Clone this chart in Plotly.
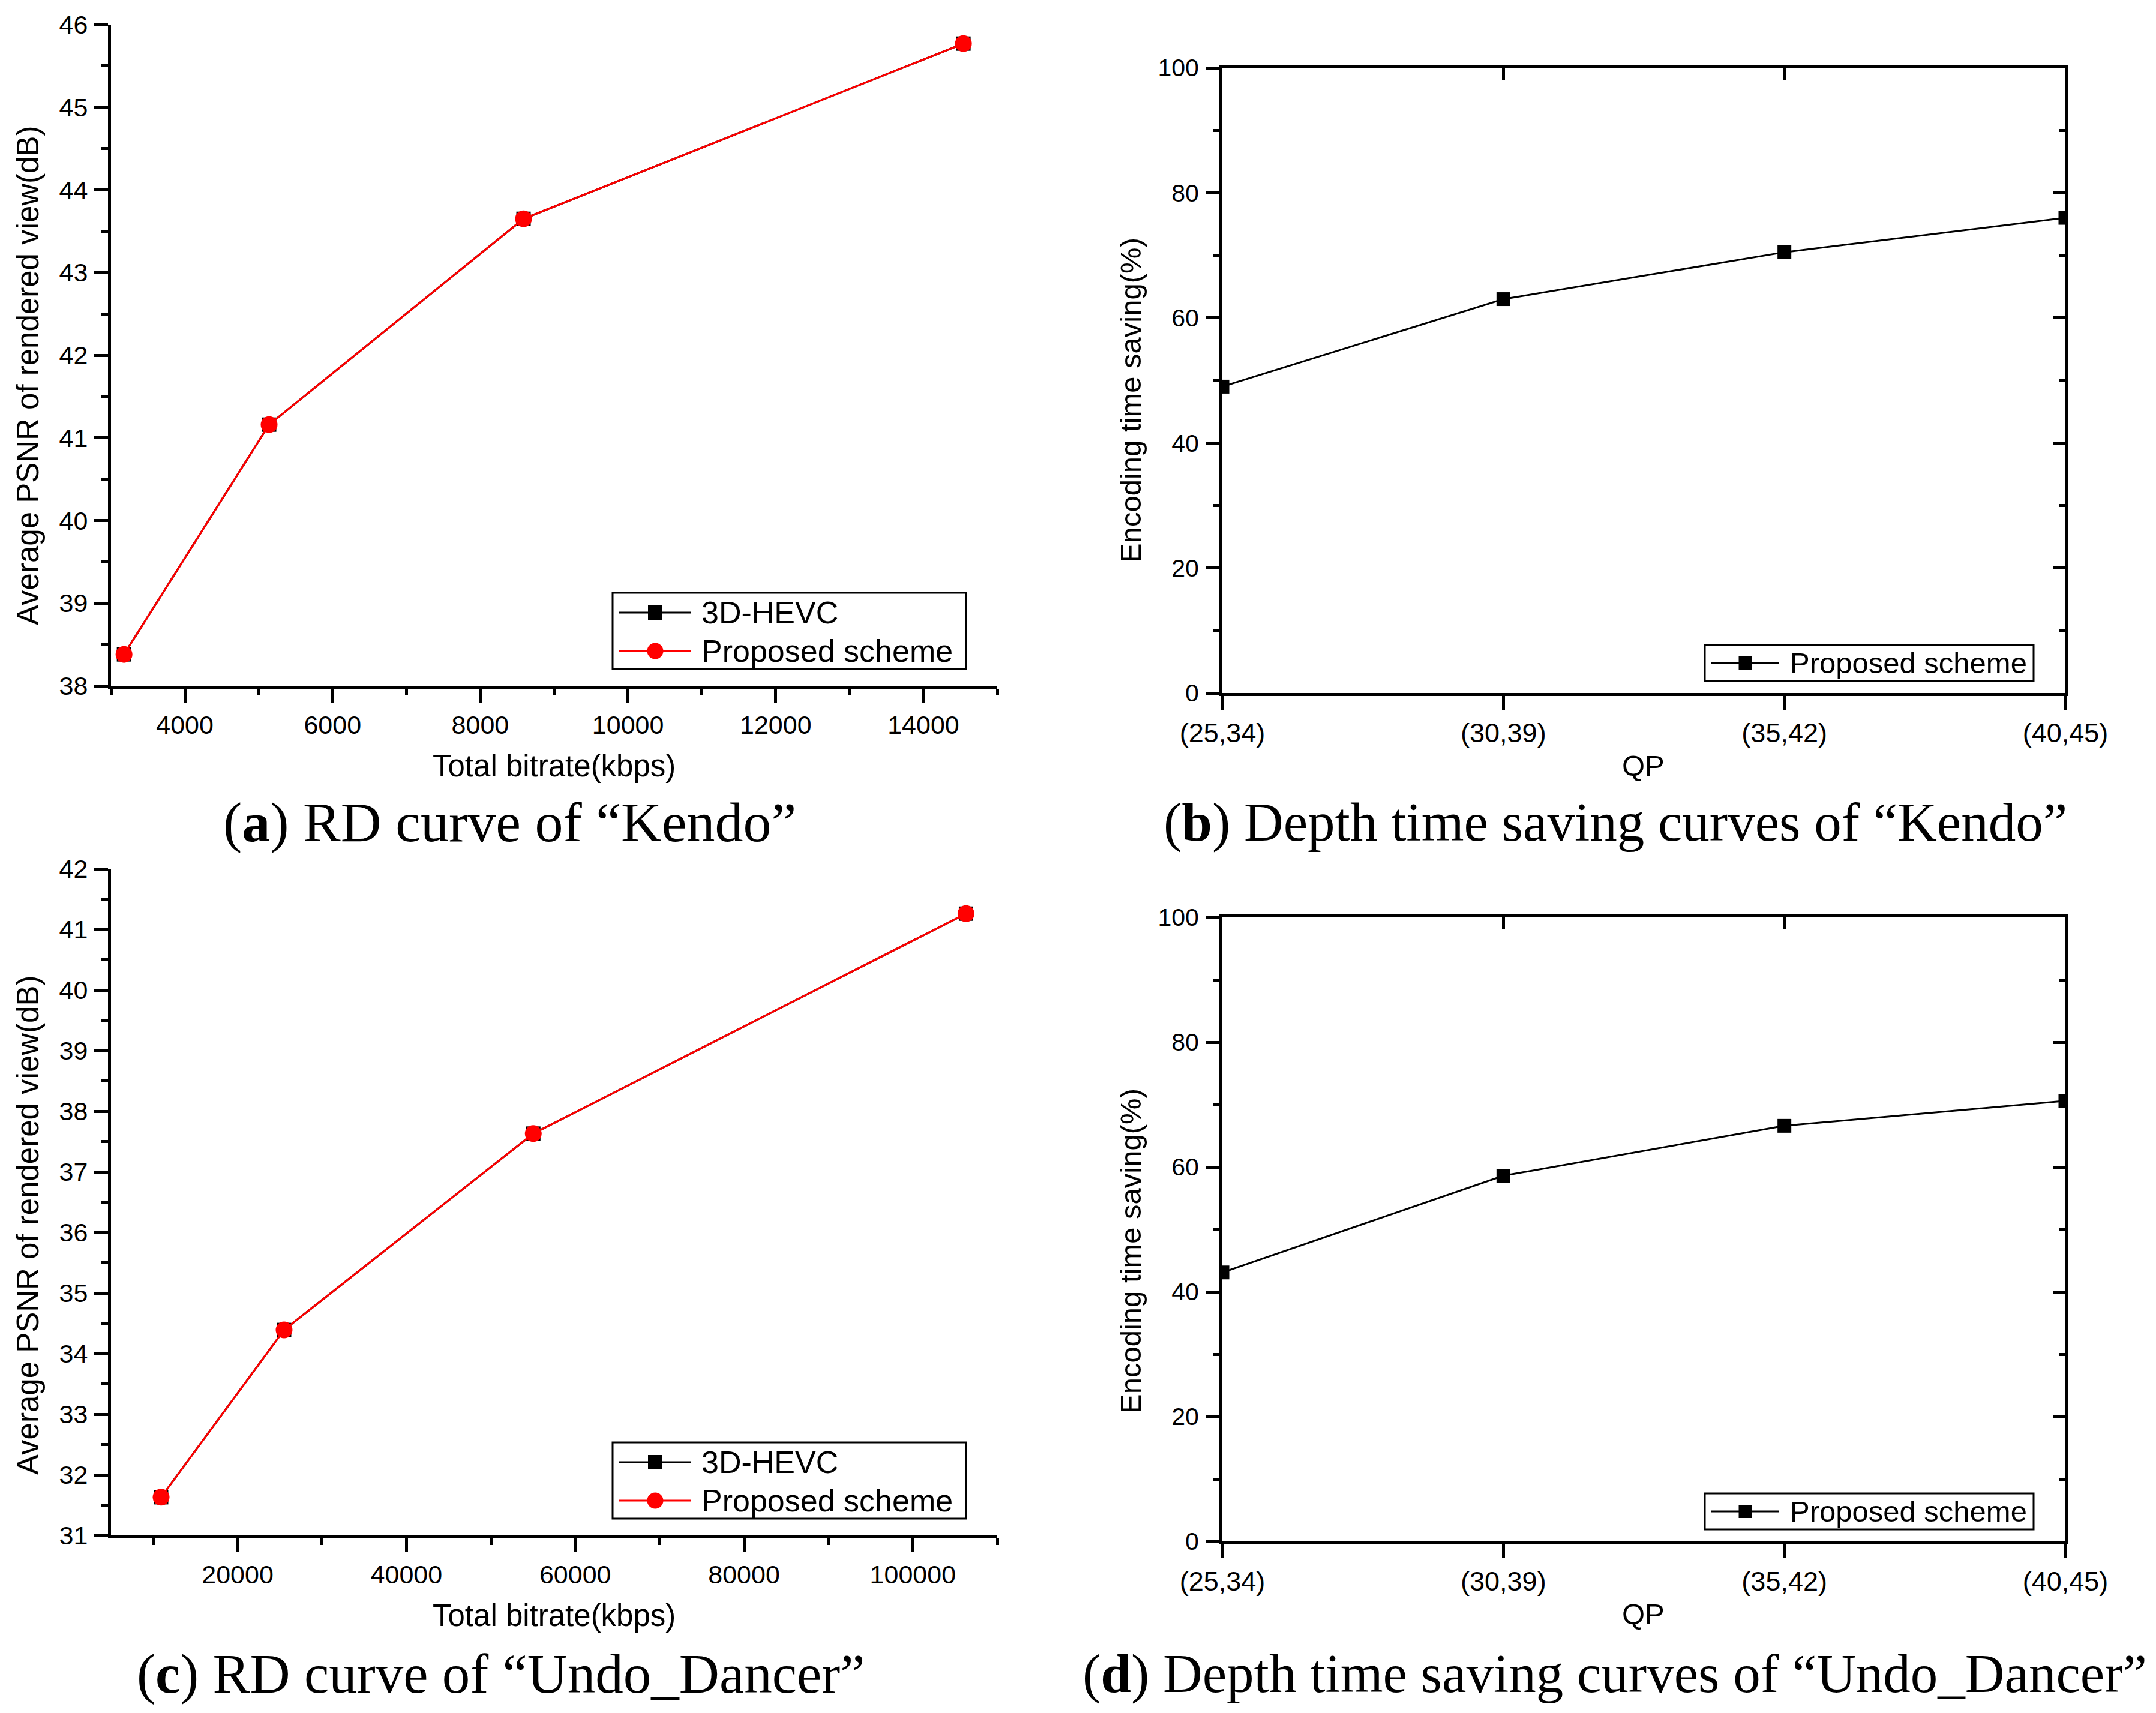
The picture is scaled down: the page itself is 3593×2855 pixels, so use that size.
"""RD curves and depth time-saving curves for Kendo / Undo_Dancer (2x2 panel figure)."""

import plotly.graph_objects as go

# ── data ────────────────────────────────────────────────────────────────

KENDO_BITRATE_HEVC = [3176, 5141, 8586, 14542]
KENDO_PSNR_HEVC = [38.38, 41.16, 43.65, 45.77]
KENDO_BITRATE_PROP = [3176, 5141, 8586, 14542]
KENDO_PSNR_PROP = [38.38, 41.16, 43.65, 45.77]

UNDO_BITRATE_HEVC = [10936, 25507, 55032, 106300]
UNDO_PSNR_HEVC = [31.63, 34.39, 37.63, 41.26]
UNDO_BITRATE_PROP = [10936, 25507, 55032, 106300]
UNDO_PSNR_PROP = [31.63, 34.39, 37.63, 41.26]

QP_LABELS = ["(25,34)", "(30,39)", "(35,42)", "(40,45)"]
KENDO_SAVING = [49.0, 63.0, 70.5, 76.0]
UNDO_SAVING = [43.1, 58.6, 66.6, 70.6]

QP_POS = list(range(len(QP_LABELS)))

# ── page geometry (pixels of the reference image) ───────────────────────

W, H = 3593, 2855
SANS = "Liberation Sans, Arial, sans-serif"
SERIF = "Liberation Serif, 'Times New Roman', serif"
AXW = 5
LW = 3.2


def px(x):
    return x / W


def py(y):
    return 1 - y / H


A_X = [px(185), px(1662)]
A_Y = [py(1143), py(41)]
B_X = [px(2037), px(3442)]
B_Y = [py(1155), py(113)]
C_X = A_X
C_Y = [py(2559), py(1448)]
D_X = B_X
D_Y = [py(2569), py(1529)]

fig = go.Figure()

# RD curves
for xa, ya, bh, ph, bp, pp in [
    ("x", "y", KENDO_BITRATE_HEVC, KENDO_PSNR_HEVC, KENDO_BITRATE_PROP, KENDO_PSNR_PROP),
    ("x3", "y3", UNDO_BITRATE_HEVC, UNDO_PSNR_HEVC, UNDO_BITRATE_PROP, UNDO_PSNR_PROP),
]:
    fig.add_trace(go.Scatter(
        x=bh, y=ph, xaxis=xa, yaxis=ya, name="3D-HEVC", mode="lines+markers",
        line=dict(color="black", width=LW),
        marker=dict(symbol="square", size=24, color="black", line_width=0),
        showlegend=False,
    ))
    fig.add_trace(go.Scatter(
        x=bp, y=pp, xaxis=xa, yaxis=ya, name="Proposed scheme", mode="lines+markers",
        line=dict(color="#FF0000", width=LW),
        marker=dict(symbol="circle", size=28, color="#FF0000", line_width=0),
        showlegend=False,
    ))

# time saving curves
for xa, ya, vals in [("x2", "y2", KENDO_SAVING), ("x4", "y4", UNDO_SAVING)]:
    fig.add_trace(go.Scatter(
        x=QP_POS, y=vals, xaxis=xa, yaxis=ya, name="Proposed scheme",
        mode="lines+markers",
        line=dict(color="black", width=3),
        marker=dict(symbol="square", size=23, color="black", line_width=0),
        showlegend=False,
    ))

# empty traces so the mirrored (inward tick) axes get drawn
for xa, ya in [("x5", "y5"), ("x6", "y6")]:
    fig.add_trace(go.Scatter(x=[], y=[], xaxis=xa, yaxis=ya,
                             showlegend=False, hoverinfo="skip"))

tickfont = dict(family=SANS, size=43, color="black")
qp_font = dict(family=SANS, size=45, color="black")
pct_font = dict(family=SANS, size=41, color="black")


def axis(domain, anchor, rng, dtick, minor_dtick, ticks="outside", ticklen=23,
         minorlen=11, **kw):
    d = dict(
        domain=domain, anchor=anchor, range=rng, automargin=False,
        showline=True, linewidth=AXW, linecolor="black",
        ticks=ticks, ticklen=ticklen, tickwidth=AXW, tickcolor="black",
        showgrid=False, zeroline=False, tickfont=tickfont, tickformat="d",
    )
    if dtick is not None:
        d.update(dtick=dtick, tick0=0)
    if minor_dtick is not None:
        d["minor"] = dict(dtick=minor_dtick, tick0=0, ticks=ticks, ticklen=minorlen,
                          tickwidth=AXW, tickcolor="black", showgrid=False)
    d.update(kw)
    return d


layout = dict(
    width=W, height=H,
    margin=dict(l=0, r=0, t=0, b=0, pad=0, autoexpand=False),
    paper_bgcolor="white", plot_bgcolor="white",
    showlegend=False,
    xaxis=axis(A_X, "y", [3000, 15000], 2000, 1000),
    yaxis=axis(A_Y, "x", [38, 46], 1, 0.5, ticklabelstandoff=2),
    xaxis3=axis(C_X, "y3", [5000, 110000], 20000, 10000),
    yaxis3=axis(C_Y, "x3", [31, 42], 1, 0.5, ticklabelstandoff=2),
    xaxis2=axis(B_X, "y2", [0, 3], None, None, tickmode="array",
                tickvals=QP_POS, ticktext=QP_LABELS, tickfont=qp_font),
    yaxis2=axis(B_Y, "x2", [0, 100], 20, 10, ticklen=22, tickfont=pct_font,
                ticklabelstandoff=4),
    xaxis4=axis(D_X, "y4", [0, 3], None, None, tickmode="array",
                tickvals=QP_POS, ticktext=QP_LABELS, tickfont=qp_font),
    yaxis4=axis(D_Y, "x4", [0, 100], 20, 10, ticklen=22, tickfont=pct_font,
                ticklabelstandoff=4),
    xaxis5=axis(B_X, "y2", [0, 3], None, None, ticks="inside", ticklen=20,
                overlaying="x2", side="top", tickmode="array", tickvals=QP_POS,
                showticklabels=False),
    yaxis5=axis(B_Y, "x2", [0, 100], 20, 10, ticks="inside", ticklen=20, minorlen=10,
                overlaying="y2", side="right", showticklabels=False),
    xaxis6=axis(D_X, "y4", [0, 3], None, None, ticks="inside", ticklen=20,
                overlaying="x4", side="top", tickmode="array", tickvals=QP_POS,
                showticklabels=False),
    yaxis6=axis(D_Y, "x4", [0, 100], 20, 10, ticks="inside", ticklen=20, minorlen=10,
                overlaying="y4", side="right", showticklabels=False),
)
fig.update_layout(**layout)

# ── axis titles and captions (placed as in the reference) ───────────────

annotations = []


def note(text, x, y, size, family=SANS, angle=0):
    annotations.append(dict(
        text=text, x=px(x), y=py(y), xref="paper", yref="paper",
        xanchor="center", yanchor="middle", showarrow=False, textangle=angle,
        font=dict(family=family, size=size, color="black"),
    ))


note("Average PSNR of rendered view(dB)", 46, 626, 51, angle=-90)
note("Total bitrate(kbps)", 923, 1276, 51)
note("Encoding time saving(%)", 1884, 667, 49, angle=-90)
note("QP", 2738, 1276, 49)
note("Average PSNR of rendered view(dB)", 46, 2042, 51, angle=-90)
note("Total bitrate(kbps)", 923, 2692, 51)
note("Encoding time saving(%)", 1884, 2085, 49, angle=-90)
note("QP", 2738, 2690, 49)

note("(<b>a</b>) RD curve of \u201cKendo\u201d", 849, 1370, 94, family=SERIF)
note("(<b>b</b>) Depth time saving curves of \u201cKendo\u201d", 2692, 1370, 91, family=SERIF)
note("(<b>c</b>) RD curve of \u201cUndo_Dancer\u201d", 835, 2789, 93, family=SERIF)
note("(<b>d</b>) Depth time saving curves of \u201cUndo_Dancer\u201d", 2691, 2789, 91, family=SERIF)

# ── Origin-style legends (long line samples, drawn by hand) ─────────────

shapes = []


def legend(box, entries, line_x, text_x, size):
    x0, y0, x1, y1 = box
    shapes.append(dict(type="rect", xref="paper", yref="paper",
                       x0=px(x0), x1=px(x1), y0=py(y1), y1=py(y0),
                       line=dict(color="black", width=3), fillcolor="white",
                       layer="above"))
    cx = (line_x[0] + line_x[1]) / 2
    for yc, color, symbol, msize, name in entries:
        shapes.append(dict(type="line", xref="paper", yref="paper",
                           x0=px(line_x[0]), x1=px(line_x[1]), y0=py(yc), y1=py(yc),
                           line=dict(color=color, width=LW), layer="above"))
        r = msize / 2
        shapes.append(dict(type="rect" if symbol == "square" else "circle",
                           xref="paper", yref="paper",
                           x0=px(cx - r), x1=px(cx + r), y0=py(yc + r), y1=py(yc - r),
                           line=dict(width=0), fillcolor=color, layer="above"))
        annotations.append(dict(
            text=name, x=px(text_x), y=py(yc), xref="paper", yref="paper",
            xanchor="left", yanchor="middle", showarrow=False,
            font=dict(family=SANS, size=size, color="black"),
        ))


RD_ENTRIES = [("3D-HEVC", "black", "square", 24), ("Proposed scheme", "#FF0000", "circle", 27)]

for top, rows in [(988, (1021, 1085)), (2404, (2437, 2501))]:
    legend((1021, top, 1610, top + 127),
           [(rows[i], c, s, m, n) for i, (n, c, s, m) in enumerate(RD_ENTRIES)],
           (1032, 1152), 1167, 52)

for top in (1075, 2489):
    legend((2841, top, 3389, top + 60),
           [(top + 30, "black", "square", 22, "Proposed scheme")],
           (2852, 2965), 2981, 49)

fig.update_layout(annotations=annotations, shapes=shapes)

fig.write_html("out.html", config={"displayModeBar": False},
               post_script="document.body.style.margin='0';")
